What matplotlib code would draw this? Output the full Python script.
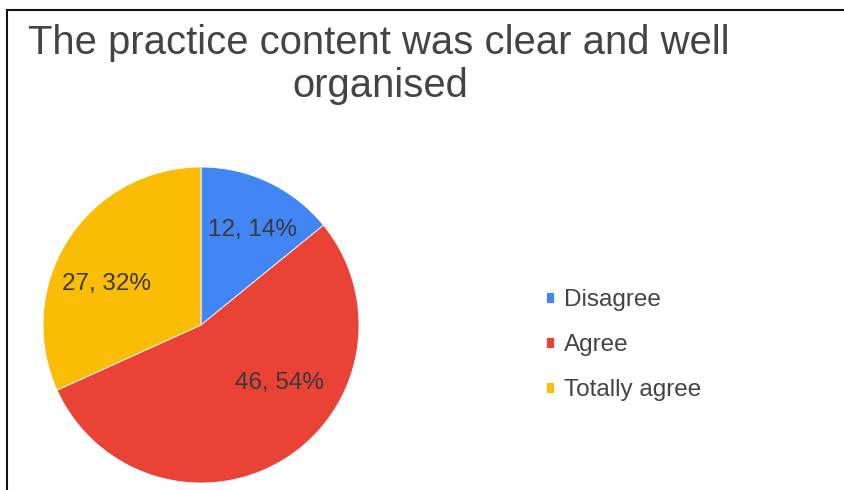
import matplotlib
matplotlib.use("Agg")
import matplotlib.pyplot as plt
from matplotlib.lines import Line2D

categories = ["Disagree", "Agree", "Totally agree"]
counts = [12, 46, 27]
colors = ["#4285F4", "#EA4335", "#FBBC04"]
title_lines = ["The practice content was clear and well", "organised"]

W, H = 845, 490
plt.rcParams["font.family"] = ["Liberation Sans", "DejaVu Sans"]
fig = plt.figure(figsize=(W / 100, H / 100), dpi=100)

# outer frame: left and top edges, running off the canvas right and bottom
fx, fy = 7.5 / W, 1 - 10.5 / H
fig.add_artist(Line2D([fx, fx, 1.02], [-0.02, fy, fy], transform=fig.transFigure,
                      color="#111111", linewidth=1.5, solid_joinstyle="miter"))

cx, cy, r = 201, 325, 158
ax = fig.add_axes([(cx - r) / W, (H - cy - r) / H, 2 * r / W, 2 * r / H])
total = sum(counts)
wedges, _, autotexts = ax.pie(
    counts, colors=colors, startangle=90, counterclock=False, radius=1,
    autopct=lambda p: f"{round(p * total / 100)}, {round(p)}%",
    wedgeprops=dict(edgecolor="white", linewidth=0.6),
    textprops=dict(color="#3a3a3a", fontsize=17.5))
ax.set_xlim(-1, 1)
ax.set_ylim(-1, 1)
ax.set_aspect("auto")
ax.axis("off")

# label placement inside each wedge
label_pos = [(0.323, 0.60), (0.50, -0.367), (-0.595, 0.26)]
for t, (x, y) in zip(autotexts, label_pos):
    t.set_position((x, y))
    t.set_ha("center")
    t.set_va("center")

fig.text(379 / W, 1 - 54 / H, title_lines[0], ha="center", va="baseline",
         fontsize=28.8, color="#444444")
fig.text(380 / W, 1 - 97 / H, title_lines[1], ha="center", va="baseline",
         fontsize=28.8, color="#444444")

leg = fig.legend(wedges, categories, loc="center left",
                 bbox_to_anchor=(546 / W, 1 - 345 / H),
                 frameon=False, fontsize=17.5, labelcolor="#444444",
                 borderaxespad=0, borderpad=0,
                 handlelength=0.33, handleheight=0.33, handletextpad=0.4,
                 labelspacing=0.94)

fig.savefig("out.png", dpi=100)
